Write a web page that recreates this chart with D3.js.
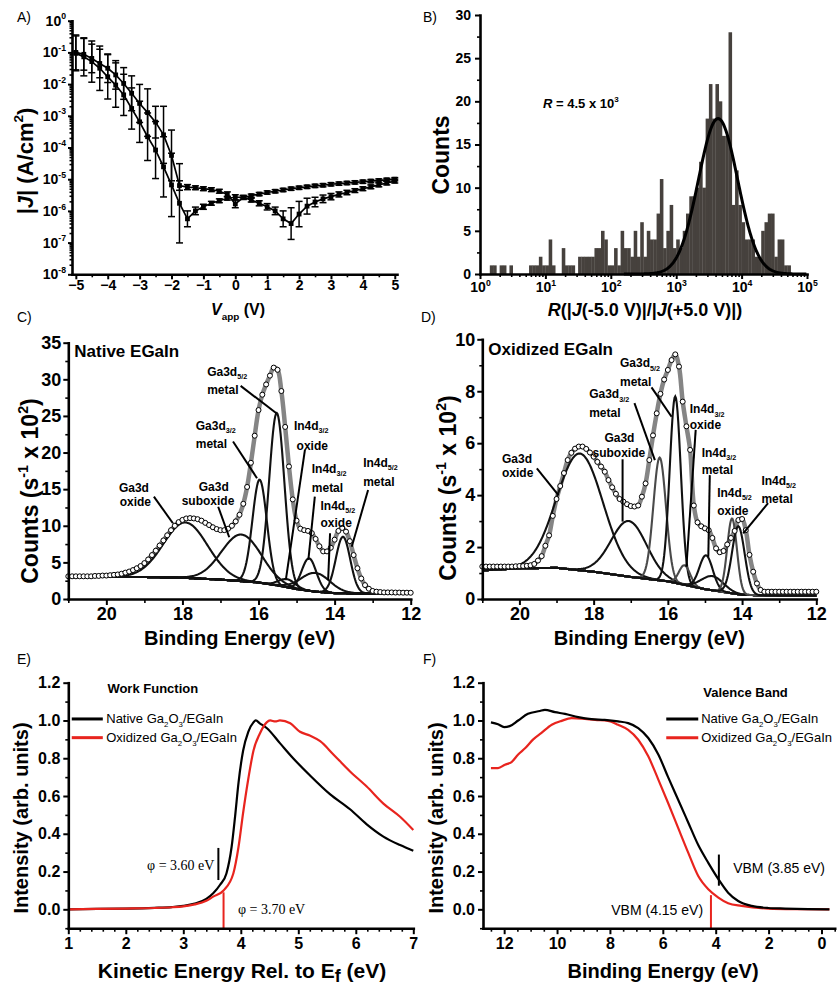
<!DOCTYPE html>
<html lang="en">
<head>
<meta charset="UTF-8">
<title>EGaIn Ga2O3 figure</title>
<script src="https://cdn.jsdelivr.net/npm/d3@7"></script>
<style>
  body { margin: 0; background: #fff; }
  svg { display: block; }
</style>
</head>
<body>
<svg id="fig" width="838" height="986"></svg>
<script>
// ---------------- data ----------------
// A) J-V, two sweeps, log10|J| and error half-width (decades)
const vApp = [-5,-4.75,-4.5,-4.25,-4,-3.75,-3.5,-3.25,-3,-2.75,-2.5,-2.25,-2,-1.75,-1.5,-1.25,-1,-0.75,-0.5,-0.25,0,0.25,0.5,0.75,1,1.25,1.5,1.75,2,2.25,2.5,2.75,3,3.25,3.5,3.75,4,4.25,4.5,4.75,5];
const logJ1 = [-1.03,-1.14,-1.29,-1.5,-1.77,-2.03,-2.34,-2.77,-3.19,-3.66,-4.08,-4.61,-5.18,-5.76,-6.25,-6.0,-5.87,-5.76,-5.68,-5.6,-5.57,-5.57,-5.66,-5.76,-5.87,-6.0,-6.25,-6.4,-6.1,-5.85,-5.72,-5.62,-5.55,-5.48,-5.42,-5.36,-5.3,-5.24,-5.18,-5.12,-5.06];
const errJ1 = [0.55,0.6,0.65,0.7,0.7,0.7,0.65,0.65,0.65,0.75,0.9,0.95,1.0,1.25,0.25,0.12,0.08,0.06,0.06,0.06,0.08,0.06,0.06,0.08,0.1,0.12,0.25,0.5,0.4,0.25,0.15,0.12,0.1,0.08,0.07,0.06,0.06,0.06,0.06,0.06,0.06];
const logJ2 = [-1.0,-1.06,-1.19,-1.35,-1.5,-1.71,-1.98,-2.29,-2.61,-2.9,-3.2,-3.6,-4.25,-5.2,-5.25,-5.27,-5.3,-5.33,-5.38,-5.48,-5.78,-5.58,-5.52,-5.47,-5.42,-5.38,-5.34,-5.3,-5.27,-5.24,-5.21,-5.19,-5.16,-5.14,-5.12,-5.1,-5.08,-5.06,-5.04,-5.02,-5.0];
const errJ2 = [0.55,0.5,0.45,0.45,0.45,0.45,0.5,0.55,0.6,0.75,0.5,0.9,0.8,0.15,0.08,0.06,0.06,0.06,0.06,0.08,0.12,0.06,0.05,0.05,0.05,0.05,0.05,0.05,0.05,0.05,0.05,0.05,0.05,0.05,0.05,0.05,0.05,0.05,0.05,0.05,0.05];

// B) histogram of log10 R, bins 0.05 decade wide starting at 10^0
const histBinDecades = 0.05;
const histCounts = [0,0,0,1,1,0,1,1,0,1, 0,0,0,0,0,1,1,1,2,1, 1,4,1,0,0,3,1,1,1,0,
  2,2,2,2,2,3,3,5,4,1, 1,3,1,5,3,3,2,5,2,6, 2,5,4,4,7,11,3,5,8,3,
  4,3,5,7,9,9,10,13,10,18, 22,18,22,20,16,16,28,8,12,8, 6,4,4,4,2,2,5,6,7,7,
  2,4,4,1,1,0,0,0,0,0];
const gaussB = { center: 3.64, height: 18, sigma: 0.30 }; // fit in log10 R

// C) native EGaIn XPS
const beGrid = [21.0,20.9,20.8,20.7,20.6,20.5,20.4,20.3,20.2,20.1,20.0,19.9,19.8,19.7,19.6,19.5,19.4,19.3,19.2,19.1,
  19.0,18.9,18.8,18.7,18.6,18.5,18.4,18.3,18.2,18.1,18.0,17.9,17.8,17.7,17.6,17.5,17.4,17.3,17.2,17.1,
  17.0,16.9,16.8,16.7,16.6,16.5,16.4,16.3,16.2,16.1,16.0,15.9,15.8,15.7,15.6,15.5,15.4,15.3,15.2,15.1,
  15.0,14.9,14.8,14.7,14.6,14.5,14.4,14.3,14.2,14.1,14.0,13.9,13.8,13.7,13.6,13.5,13.4,13.3,13.2,13.1,
  13.0,12.9,12.8,12.7,12.6,12.5,12.4,12.3,12.2,12.1,12.0];
const cCounts = [3.1,3.1,3.1,3.1,3.1,3.1,3.1,3.15,3.15,3.2,3.2,3.25,3.3,3.35,3.45,3.6,3.75,3.95,4.2,4.5,
  4.9,5.4,6.0,6.6,7.3,8.0,8.7,9.4,10.0,10.5,10.8,11.0,11.05,11.0,10.9,10.7,10.4,10.1,9.8,9.55,
  9.4,9.4,9.6,10.0,10.6,11.5,13.0,15.3,18.6,22.3,25.8,27.9,29.3,30.5,31.6,31.3,28.4,23.5,18.1,13.6,
  10.7,9.6,9.4,9.3,9.0,8.2,7.2,6.5,6.5,7.0,8.1,9.3,9.7,9.2,7.9,6.0,4.2,2.8,1.9,1.4,
  1.1,1.0,0.95,0.9,0.9,0.9,0.88,0.88,0.86,0.86,0.85];
const cBgBE = [21, 19, 18, 17, 16, 15.5, 15, 14.5, 14, 13, 12];
const cBgVal = [3.05, 3.0, 2.9, 2.65, 2.25, 1.85, 1.35, 1.0, 0.8, 0.72, 0.72];
const cPeakCenter = [17.92, 16.45, 15.97, 15.52, 15.25, 14.67, 14.5, 13.78];
const cPeakTop = [10.45, 8.8, 16.3, 25.4, 2.7, 5.55, 3.55, 8.5];
const cPeakSigma = [0.58, 0.52, 0.19, 0.2, 0.22, 0.19, 0.38, 0.19];

// D) oxidized EGaIn XPS
const dCounts = [1.25,1.25,1.25,1.25,1.25,1.25,1.25,1.25,1.25,1.26,1.27,1.27,1.28,1.3,1.35,1.48,1.65,2.05,2.45,3.2,
  3.85,4.35,4.85,5.35,5.63,5.79,5.87,5.87,5.78,5.64,5.48,5.28,5.1,4.9,4.58,4.3,4.05,3.85,3.75,3.65,
  3.58,3.56,3.6,3.94,4.45,5.35,6.3,7.15,7.9,8.45,8.82,9.2,9.42,8.95,7.6,6.65,5.74,3.6,2.95,2.8,
  2.72,2.65,2.35,1.95,1.8,1.85,2.1,2.35,2.62,3.04,3.08,2.65,1.7,1.05,0.6,0.35,0.28,0.28,0.28,0.28,
  0.28,0.28,0.28,0.28,0.28,0.28,0.28,0.28,0.28,0.28,0.28];
const dBgBE = [21, 20, 19, 18, 17, 16, 15, 14, 13, 12];
const dBgVal = [1.1, 1.18, 1.2, 1.05, 0.85, 0.68, 0.38, 0.16, 0.13, 0.13];
const dPeakCenter = [18.37, 17.05, 16.22, 15.8, 15.55, 14.97, 14.8, 14.27, 14.1];
const dPeakTop = [5.6, 3.0, 5.45, 7.8, 1.3, 1.68, 0.88, 3.1, 2.8];
const dPeakSigma = [0.62, 0.48, 0.17, 0.15, 0.15, 0.18, 0.3, 0.13, 0.17];
const dPeakGray = [false, false, true, false, true, false, false, true, false];

// E) work function (secondary electron cutoff)
const eNativeKE = [1.0,1.5,2.0,2.5,2.8,3.0,3.2,3.4,3.52,3.64,3.75,3.84,3.9,3.96,4.04,4.13,4.22,4.26,4.33,4.45,4.68,4.91,5.2,5.55,5.9,6.19,6.48,6.77,7.0];
const eNativeI = [0,0.002,0.004,0.008,0.012,0.018,0.03,0.055,0.085,0.13,0.19,0.33,0.49,0.67,0.84,0.94,0.99,1.0,0.985,0.96,0.88,0.80,0.71,0.61,0.53,0.45,0.385,0.34,0.31];
const eOxKE = [1.0,1.5,2.0,2.5,2.8,3.0,3.2,3.4,3.52,3.7,3.87,3.96,4.04,4.13,4.22,4.33,4.45,4.51,4.6,4.68,4.86,5.03,5.2,5.38,5.61,5.9,6.19,6.48,6.77,7.0];
const eOxI = [0,0.002,0.004,0.007,0.011,0.016,0.026,0.045,0.067,0.1,0.19,0.33,0.51,0.69,0.84,0.93,0.99,1.0,0.995,1.0,0.985,0.94,0.92,0.89,0.82,0.73,0.65,0.56,0.49,0.42];

// F) valence band
const fNativeBE = [12.5,12.23,12.0,11.79,11.47,11.1,10.65,10.46,10.08,9.7,9.2,8.7,8.2,7.69,7.31,6.93,6.55,6.17,5.8,5.42,5.04,4.66,4.28,3.9,3.53,3.15,2.64,2.01,1.38,0.5,-0.3];
const fNativeI = [0.99,0.98,0.965,0.97,1.0,1.035,1.05,1.056,1.044,1.035,1.018,1.007,1.003,0.995,0.986,0.96,0.907,0.82,0.70,0.58,0.46,0.34,0.246,0.16,0.088,0.044,0.018,0.007,0.004,0.001,0];
const fOxBE = [12.5,12.23,11.97,11.72,11.47,11.2,10.9,10.6,10.2,9.83,9.45,9.07,8.56,8.07,7.69,7.31,6.93,6.55,6.17,5.8,5.42,5.04,4.66,4.28,3.9,3.53,3.02,2.01,1.0,-0.3];
const fOxI = [0.748,0.748,0.766,0.78,0.82,0.854,0.9,0.933,0.977,0.998,1.012,1.01,1.003,0.998,0.977,0.95,0.898,0.81,0.687,0.563,0.431,0.30,0.176,0.106,0.062,0.032,0.018,0.004,0.001,0];

// ---------------- helpers ----------------
const FONT = '"Liberation Sans", Arial, sans-serif';
const SERIF = '"Liberation Serif", "DejaVu Serif", serif';
const RED = "#e8241e";
const svg = d3.select("#fig");

function drawAxis(parent, make, tr, majors, minors, fs, fmt, opt = {}) {
  const majLen = opt.maj ?? 5, minLen = opt.min ?? 3, pad = opt.pad ?? 3;
  if (minors) {
    const gm = parent.append("g").attr("transform", tr)
      .call(make().tickValues(minors).tickSize(minLen).tickSizeOuter(0).tickFormat(""));
    gm.select(".domain").remove();
    gm.selectAll(".tick line").attr("stroke-width", 1.6);
  }
  const g = parent.append("g").attr("transform", tr)
    .call(make().tickValues(majors).tickSize(majLen).tickSizeOuter(0).tickPadding(pad).tickFormat(fmt));
  g.select(".domain").attr("stroke-width", opt.w ?? 2.6).attr("stroke-linecap", "square");
  g.selectAll(".tick line").attr("stroke-width", 2);
  g.selectAll(".tick text").attr("font-size", fs).attr("font-family", FONT)
    .attr("font-weight", "bold").attr("fill", "#000");
  return g;
}

// text built from pieces: strings or {t, sub, sup, i}
function rich(parent, x, y, parts, size, extra = {}) {
  const t = parent.append("text").attr("x", x).attr("y", y)
    .attr("font-size", size).attr("font-family", FONT).attr("fill", "#000");
  for (const k in extra) t.attr(k, extra[k]);
  let cur = 0;
  parts.forEach(p => {
    if (typeof p === "string") p = { t: p };
    const off = p.sub ? size * (p.dy ?? 0.3) : p.sup ? -size * 0.45 : 0;
    const s = t.append("tspan").attr("dy", off - cur).text(p.t);
    if (p.sub || p.sup) s.attr("font-size", size * (p.scale ?? 0.62));
    if (p.i) s.attr("font-style", "italic");
    cur = off;
  });
  return t;
}

function supTicks(g, fs) {
  g.selectAll(".tick text").each(function (d) {
    const t = d3.select(this).text("10");
    t.append("tspan").attr("dy", -fs * 0.45).attr("font-size", fs * 0.62)
      .text(Math.round(Math.log10(d)));
  });
}

function logTicks(lo, hi) {
  const out = [];
  for (let e = lo; e < hi; e++) for (let m = 2; m <= 9; m++) out.push(m * Math.pow(10, e));
  return out;
}

function panelLetter(x, y, s) {
  svg.append("text").attr("x", x).attr("y", y).attr("font-family", FONT)
    .attr("font-size", 14).text(s);
}

// ================= Panel A =================
{
  const g = svg.append("g");
  const x = d3.scaleLinear().domain([-5.12, 5.07]).range([72, 397]);
  const y = d3.scaleLog().domain([1e-8, 1]).range([274.3, 20.7]);
  const decades = d3.range(-8, 1).map(e => Math.pow(10, e));

  drawAxis(g, () => d3.axisBottom(x), `translate(0,${y(1e-8)})`,
    d3.range(-5, 5.01, 1), d3.range(-4.5, 5, 1), 14, d3.format("d"), { maj: 5, min: 3, pad: 1 });
  const ya = drawAxis(g, () => d3.axisLeft(y), `translate(${x(-5.12)},0)`,
    decades, logTicks(-8, 0), 14, () => "10", { maj: 4, min: 2.5, pad: 2 });
  supTicks(ya, 14);

  const sweeps = [
    vApp.map((v, i) => ({ v, l: logJ1[i], e: errJ1[i] })),
    vApp.map((v, i) => ({ v, l: logJ2[i], e: errJ2[i] }))
  ];
  const line = d3.line().x(d => x(d.v)).y(d => y(Math.pow(10, d.l)));
  sweeps.forEach(s => {
    const eb = g.append("g").attr("stroke", "#000").attr("stroke-width", 1.5);
    s.forEach(d => {
      const yt = y(Math.pow(10, d.l + d.e)), yb = y(Math.pow(10, Math.max(d.l - d.e, -8)));
      eb.append("line").attr("x1", x(d.v)).attr("x2", x(d.v)).attr("y1", yt).attr("y2", yb);
      eb.append("line").attr("x1", x(d.v) - 3.5).attr("x2", x(d.v) + 3.5).attr("y1", yt).attr("y2", yt);
      eb.append("line").attr("x1", x(d.v) - 3.5).attr("x2", x(d.v) + 3.5).attr("y1", yb).attr("y2", yb);
    });
    g.append("path").datum(s).attr("d", line).attr("fill", "none").attr("stroke", "#000").attr("stroke-width", 1.7);
    g.selectAll(null).data(s).enter().append("rect")
      .attr("x", d => x(d.v) - 2.4).attr("y", d => y(Math.pow(10, d.l)) - 2.4)
      .attr("width", 4.8).attr("height", 4.8).attr("fill", "#000");
  });

  panelLetter(17, 22, "A)");
  rich(g, 0, 0, ["|", { t: "J", i: true }, "| (A/cm", { t: "2", sup: true }, ")"], 22,
    { transform: "translate(33,161) rotate(-90)", "text-anchor": "middle", "font-weight": "bold" });
  rich(g, 238, 315, [{ t: "V", i: true }, { t: "app", sub: true }, " (V)"], 16,
    { "text-anchor": "middle", "font-weight": "bold" });
}

// ================= Panel B =================
{
  const g = svg.append("g");
  const x = d3.scaleLog().domain([1, 1e5]).range([480, 807]);
  const y = d3.scaleLinear().domain([0, 30]).range([274, 15]);

  g.selectAll(null).data(histCounts).enter().append("rect")
    .attr("x", (d, i) => x(Math.pow(10, i * histBinDecades)))
    .attr("width", (d, i) => x(Math.pow(10, (i + 1) * histBinDecades)) - x(Math.pow(10, i * histBinDecades)) + 0.3)
    .attr("y", d => y(d)).attr("height", d => y(0) - y(d))
    .attr("fill", "#46413d");

  const lg = d3.range(2.2, 5.0, 0.01);
  g.append("path").datum(lg)
    .attr("d", d3.line().x(l => x(Math.pow(10, l)))
      .y(l => y(gaussB.height * Math.exp(-0.5 * Math.pow((l - gaussB.center) / gaussB.sigma, 2)))))
    .attr("fill", "none").attr("stroke", "#000").attr("stroke-width", 3);

  const xa = drawAxis(g, () => d3.axisBottom(x), `translate(0,${y(0)})`,
    d3.range(0, 6).map(e => Math.pow(10, e)), logTicks(0, 5), 14, () => "10", { maj: 5, min: 3, pad: 3 });
  supTicks(xa, 14);
  drawAxis(g, () => d3.axisLeft(y), `translate(${x(1)},0)`,
    d3.range(0, 31, 5), d3.range(2.5, 30, 5), 14, d3.format("d"), { maj: 5, min: 3, pad: 4 });

  panelLetter(423, 22, "B)");
  g.append("text").attr("transform", "translate(449,155) rotate(-90)").attr("text-anchor", "middle")
    .attr("font-family", FONT).attr("font-size", 23).attr("font-weight", "bold").text("Counts");
  rich(g, 543, 108, [{ t: "R", i: true }, " = 4.5 x 10", { t: "3", sup: true }], 13, { "font-weight": "bold" });
  rich(g, 645, 316, [{ t: "R", i: true }, "(|", { t: "J", i: true }, "(-5.0 V)|/|", { t: "J", i: true }, "(+5.0 V)|)"], 18,
    { "text-anchor": "middle", "font-weight": "bold" });
}

// ================= Panels C and D (XPS) =================
function xpsPanel(opt) {
  const g = svg.append("g");
  const x = d3.scaleLinear().domain([21, 12]).range(opt.xr);
  const y = d3.scaleLinear().domain([0, opt.ymax]).range([599, opt.ytop]);
  const bg = d3.scaleLinear().domain(opt.bgBE).range(opt.bgVal);
  const grid = d3.range(12, 21.0001, 0.02);

  const pts = beGrid.map((b, i) => ({ b, c: opt.counts[i] }));
  g.append("path").datum(pts)
    .attr("d", d3.line().x(d => x(d.b)).y(d => y(d.c)).curve(d3.curveCatmullRom))
    .attr("fill", "none").attr("stroke", "#858585").attr("stroke-width", 4.5);

  g.append("path").datum(grid)
    .attr("d", d3.line().x(b => x(b)).y(b => y(bg(b))))
    .attr("fill", "none").attr("stroke", "#111").attr("stroke-width", 2);
  opt.centers.forEach((c, k) => {
    const amp = opt.tops[k] - bg(c), s = opt.sigmas[k];
    g.append("path").datum(grid)
      .attr("d", d3.line().x(b => x(b)).y(b => y(bg(b) + amp * Math.exp(-0.5 * Math.pow((b - c) / s, 2)))))
      .attr("fill", "none").attr("stroke", opt.gray && opt.gray[k] ? "#4a4a4a" : "#111")
      .attr("stroke-width", 2.1);
  });

  g.selectAll(null).data(pts).enter().append("circle")
    .attr("cx", d => x(d.b)).attr("cy", d => y(d.c)).attr("r", 2.5)
    .attr("fill", "#fff").attr("stroke", "#000").attr("stroke-width", 1);

  // annotations
  opt.labels.forEach(L => {
    if (L.from[0] !== L.to[0] || L.from[1] !== L.to[1]) {
      g.append("line").attr("x1", x(L.from[0])).attr("y1", y(L.from[1]))
        .attr("x2", x(L.to[0])).attr("y2", y(L.to[1])).attr("stroke", "#000").attr("stroke-width", 2);
    }
    rich(g, x(L.at[0]), y(L.at[1]) - 1, L.l1, 12, { "font-weight": "bold" });
    rich(g, x(L.at2[0]), y(L.at2[1]) + (L.l1.length > 1 ? 2.5 : 1.5), [L.l2], 12, { "font-weight": "bold" });
  });

  drawAxis(g, () => d3.axisBottom(x), `translate(0,599)`,
    [20, 18, 16, 14, 12], [21, 19, 17, 15, 13], 18, d3.format("d"), { maj: 6, min: 4, pad: 2 });
  drawAxis(g, () => d3.axisLeft(y), `translate(${opt.xr[0]},0)`,
    opt.yMajors, opt.yMinors, 18, d3.format("d"), { maj: 5, min: 3, pad: 2 });

  panelLetter(opt.letterX, 322, opt.letter);
  g.append("text").attr("x", opt.xr[0] + 6).attr("y", opt.titleY).attr("font-family", FONT)
    .attr("font-size", 17).attr("font-weight", "bold").text(opt.title);
  rich(g, 0, 0, ["Counts (s", { t: "-1", sup: true }, " x 10", { t: "2", sup: true }, ")"], 23,
    { transform: `translate(${opt.yTitleX},${opt.yTitleY}) rotate(-90)`, "text-anchor": "middle", "font-weight": "bold" });
  g.append("text").attr("x", (opt.xr[0] + opt.xr[1]) / 2).attr("y", 645).attr("text-anchor", "middle")
    .attr("font-family", FONT).attr("font-size", 20).attr("font-weight", "bold").text("Binding Energy (eV)");
}

const sub = t => ({ t, sub: true, dy: 0.28, scale: 0.6 });

xpsPanel({
  xr: [68.3, 410.7], ymax: 35, ytop: 342.7, counts: cCounts,
  bgBE: cBgBE, bgVal: cBgVal, centers: cPeakCenter, tops: cPeakTop, sigmas: cPeakSigma,
  yMajors: d3.range(0, 36, 5), yMinors: d3.range(2.5, 35, 5),
  letter: "C)", letterX: 17, title: "Native EGaIn", titleY: 357, yTitleX: 38, yTitleY: 491,
  labels: [
    { l1: ["Ga3d"], l2: "oxide", at: [19.67, 14.48], at2: [19.65, 12.84], from: [18.75, 13.98], to: [18.25, 10.34] },
    { l1: ["Ga3d"], l2: "suboxide", at: [17.57, 14.62], at2: [18.02, 12.98], from: [17.06, 12.6], to: [16.77, 8.43] },
    { l1: ["Ga3d", sub("3/2")], l2: "metal", at: [17.65, 22.99], at2: [17.65, 20.9], from: [16.67, 21.5], to: [16.04, 16.5] },
    { l1: ["Ga3d", sub("5/2")], l2: "metal", at: [17.35, 30.37], at2: [17.35, 28.28], from: [16.47, 29.1], to: [15.53, 25.37] },
    { l1: ["In4d", sub("3/2")], l2: "oxide", at: [15.07, 22.95], at2: [15.0, 20.67], from: [14.78, 20.36], to: [15.28, 2.69] },
    { l1: ["In4d", sub("3/2")], l2: "metal", at: [14.6, 17.08], at2: [14.6, 14.89], from: [14.52, 13.98], to: [14.69, 5.33] },
    { l1: ["In4d", sub("5/2")], l2: "oxide", at: [14.37, 12.0], at2: [14.37, 10.2], from: [14.12, 8.98], to: [14.17, 2.6] },
    { l1: ["In4d", sub("5/2")], l2: "metal", at: [13.25, 17.94], at2: [13.25, 15.71], from: [13.12, 14.89], to: [13.55, 7.14] }
  ]
});

xpsPanel({
  xr: [482.3, 816.3], ymax: 10, ytop: 339.3, counts: dCounts,
  bgBE: dBgBE, bgVal: dBgVal, centers: dPeakCenter, tops: dPeakTop, sigmas: dPeakSigma, gray: dPeakGray,
  yMajors: d3.range(0, 11, 2), yMinors: d3.range(1, 10, 2),
  letter: "D)", letterX: 421, title: "Oxidized EGaIn", titleY: 355, yTitleX: 456, yTitleY: 488,
  labels: [
    { l1: ["Ga3d"], l2: "oxide", at: [20.47, 5.2], at2: [20.47, 4.74], from: [19.53, 5.03], to: [18.95, 4.0] },
    { l1: ["Ga3d"], l2: "suboxide", at: [17.71, 6.02], at2: [18.03, 5.53], from: [17.22, 5.38], to: [17.22, 2.98] },
    { l1: ["Ga3d", sub("3/2")], l2: "metal", at: [18.12, 7.69], at2: [18.12, 7.11], from: [16.9, 7.54], to: [16.35, 5.35] },
    { l1: ["Ga3d", sub("5/2")], l2: "metal", at: [17.29, 8.88], at2: [17.29, 8.28], from: [16.44, 8.15], to: [15.9, 7.02] },
    { l1: ["In4d", sub("3/2")], l2: "oxide", at: [15.41, 7.11], at2: [15.41, 6.63], from: [15.25, 6.51], to: [15.5, 1.24] },
    { l1: ["In4d", sub("3/2")], l2: "metal", at: [15.09, 5.44], at2: [15.09, 4.9], from: [14.87, 4.77], to: [14.91, 1.63] },
    { l1: ["In4d", sub("5/2")], l2: "oxide", at: [14.67, 3.9], at2: [14.67, 3.32], from: [14.3, 3.12], to: [14.3, 3.12] },
    { l1: ["In4d", sub("5/2")], l2: "metal", at: [13.48, 4.35], at2: [13.48, 3.81], from: [13.3, 3.69], to: [13.97, 2.53] }
  ]
});

// ================= Panels E and F (UPS) =================
function upsPanel(opt) {
  const g = svg.append("g");
  const x = d3.scaleLinear().domain(opt.xd).range(opt.xr);
  const y = d3.scaleLinear().domain([-0.1, 1.2]).range([928.2, 682.7]);
  const line = d3.line().x(d => x(d[0])).y(d => y(d[1])).curve(d3.curveMonotoneX);

  const curves = [
    { xs: opt.nx, ys: opt.ny, color: "#000" },
    { xs: opt.ox, ys: opt.oy, color: RED }
  ];
  const order = opt.redOnTop ? curves : [curves[1], curves[0]];
  order.forEach(c => {
    g.append("path").datum(c.xs.map((v, i) => [v, c.ys[i]]))
      .attr("d", line).attr("fill", "none").attr("stroke", c.color).attr("stroke-width", 2.2);
  });

  // onset markers
  g.append("line").attr("x1", x(opt.mk[0])).attr("x2", x(opt.mk[0]))
    .attr("y1", y(opt.mk[1])).attr("y2", y(opt.mk[2])).attr("stroke", "#000").attr("stroke-width", 2);
  g.append("line").attr("x1", x(opt.mkRed[0])).attr("x2", x(opt.mkRed[0]))
    .attr("y1", y(opt.mkRed[1])).attr("y2", y(-0.1)).attr("stroke", RED).attr("stroke-width", 2);

  // legend
  const lx = opt.legX;
  g.append("line").attr("x1", x(lx[0])).attr("x2", x(lx[1])).attr("y1", y(1.008)).attr("y2", y(1.008))
    .attr("stroke", "#000").attr("stroke-width", 3);
  g.append("line").attr("x1", x(lx[0])).attr("x2", x(lx[1])).attr("y1", y(0.909)).attr("y2", y(0.909))
    .attr("stroke", RED).attr("stroke-width", 3);
  rich(g, x(lx[2]), y(0.987), ["Native Ga", sub("2"), "O", sub("3"), "/EGaIn"], 13);
  rich(g, x(lx[2]), y(0.886), ["Oxidized Ga", sub("2"), "O", sub("3"), "/EGaIn"], 13);
  g.append("text").attr("x", x(opt.head[0])).attr("y", y(opt.head[1])).attr("font-family", FONT)
    .attr("font-size", 13).attr("font-weight", "bold").text(opt.headText);

  opt.notes.forEach(n => {
    g.append("text").attr("x", x(n[0])).attr("y", y(n[1])).attr("font-family", n[3] || FONT)
      .attr("font-size", 14).attr("fill", "#000").text(n[2]);
  });

  drawAxis(g, () => d3.axisBottom(x), `translate(0,${y(-0.1)})`,
    opt.xMajors, opt.xMinors, 16, d3.format("d"), { maj: 6, min: 3.5, pad: 3 });
  drawAxis(g, () => d3.axisLeft(y), `translate(${opt.xr[0]},0)`,
    d3.range(0, 1.21, 0.2), [-0.1, 0.1, 0.3, 0.5, 0.7, 0.9, 1.1], 16, d3.format(".1f"), { maj: 5, min: 3, pad: 3 });

  panelLetter(opt.letterX, 664, opt.letter);
  g.append("text").attr("transform", `translate(${opt.yTitleX},818) rotate(-90)`).attr("text-anchor", "middle")
    .attr("font-family", FONT).attr("font-size", 20).attr("font-weight", "bold").text("Intensity (arb. units)");
  rich(g, opt.xTitleX, 978, opt.xTitle, opt.xTitleSize, { "text-anchor": "middle", "font-weight": "bold" });
}

upsPanel({
  xd: [1, 7], xr: [68.3, 413.3], nx: eNativeKE, ny: eNativeI, ox: eOxKE, oy: eOxI, redOnTop: true,
  mk: [3.61, 0.325, 0.155], mkRed: [3.70, 0.09],
  legX: [1.06, 1.6, 1.66], head: [1.68, 1.146], headText: "Work Function",
  notes: [[2.37, 0.21, "\u03c6 = 3.60 eV", SERIF], [3.95, -0.025, "\u03c6 = 3.70 eV", SERIF]],
  xMajors: d3.range(1, 7.01, 1), xMinors: d3.range(1.2, 7, 0.2).filter(v => Math.abs(v - Math.round(v)) > 0.05),
  letter: "E)", letterX: 17, yTitleX: 28, xTitleX: 242, xTitleSize: 21,
  xTitle: ["Kinetic Energy Rel. to E", { t: "f", sub: true, dy: 0.18, scale: 0.85 }, { t: " (eV)" }]
});

upsPanel({
  xd: [12.8, -0.5], xr: [483, 834.7], nx: fNativeBE, ny: fNativeI, ox: fOxBE, oy: fOxI, redOnTop: false,
  mk: [3.88, 0.29, 0.125], mkRed: [4.18, 0.075],
  legX: [5.87, 4.66, 4.55], head: [4.47, 1.125], headText: "Valence Band",
  notes: [[3.34, 0.19, "VBM (3.85 eV)"], [7.95, -0.03, "VBM (4.15 eV)"]],
  xMajors: [12, 10, 8, 6, 4, 2, 0], xMinors: [12.5, 11.5, 11, 10.5, 9.5, 9, 8.5, 7.5, 7, 6.5, 5.5, 5, 4.5, 3.5, 3, 2.5, 1.5, 1, 0.5, -0.5],
  letter: "F)", letterX: 423, yTitleX: 443, xTitleX: 663, xTitleSize: 20,
  xTitle: ["Binding Energy (eV)"]
});
</script>
</body>
</html>
